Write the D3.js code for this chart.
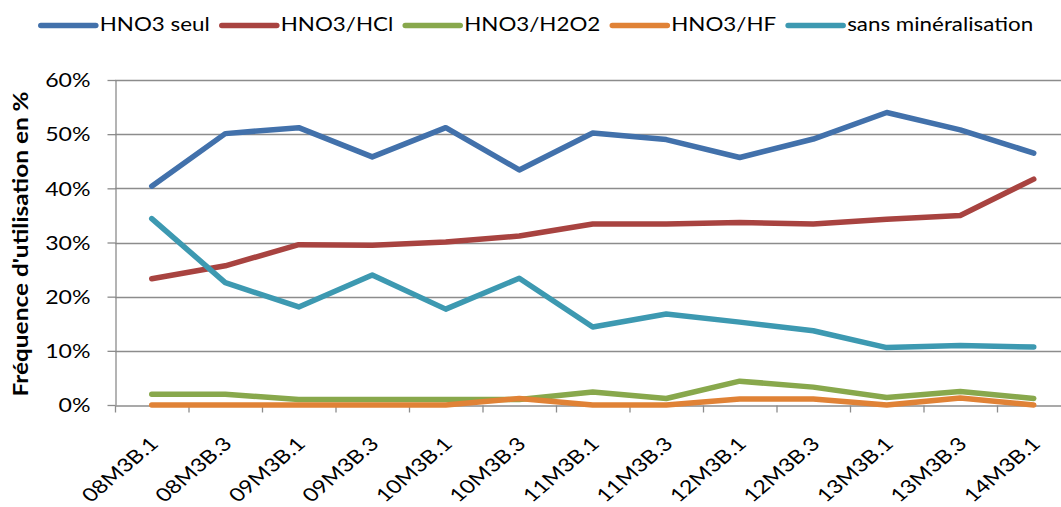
<!DOCTYPE html>
<html>
<head>
<meta charset="utf-8">
<script src="https://cdn.jsdelivr.net/npm/d3@7"></script>
<style>
  body { margin: 0; background: #fff; }
  text { font-family: Lato, "Open Sans", sans-serif; fill: #000; }
</style>
</head>
<body>
<div id="chart"></div>
<script>
// categories (x axis)
const categories = ["08M3B.1","08M3B.3","09M3B.1","09M3B.3","10M3B.1","10M3B.3","11M3B.1","11M3B.3","12M3B.1","12M3B.3","13M3B.1","13M3B.3","14M3B.1"];

// series values, in %
const hno3Seul = [40.4, 50.1, 51.2, 45.8, 51.2, 43.4, 50.2, 49.0, 45.7, 49.1, 54.0, 50.8, 46.5];
const hno3Hcl  = [23.3, 25.7, 29.6, 29.5, 30.1, 31.2, 33.4, 33.4, 33.7, 33.4, 34.3, 35.0, 41.7];
const hno3H2o2 = [2.0, 2.0, 1.0, 1.0, 1.0, 1.0, 2.4, 1.2, 4.4, 3.3, 1.4, 2.5, 1.2];
const hno3Hf   = [0, 0, 0, 0, 0, 1.2, 0, 0, 1.1, 1.1, 0, 1.3, 0];
const sansMin  = [34.4, 22.6, 18.1, 24.0, 17.7, 23.4, 14.4, 16.8, 15.3, 13.7, 10.6, 11.0, 10.7];

const seriesNames = ["HNO3 seul", "HNO3/HCl", "HNO3/H2O2", "HNO3/HF", "sans minéralisation"];
const seriesValues = [hno3Seul, hno3Hcl, hno3H2o2, hno3Hf, sansMin];
const seriesColors = ["#4271AB", "#A84340", "#88A84C", "#E08236", "#3D99B1"];

const yTicks = [0, 10, 20, 30, 40, 50, 60];
const yTitle = "Fréquence d'utilisation en %";

const width = 1061, height = 507;
const margins = { top: 80, left: 115, bottom: 102 };
const plotRight = 1070.5; // plot runs past the right edge, like the original
const gridColor = "#8c8c8c";
const stretch = 1.25; // text in the original is wider than Lato

const svg = d3.select("#chart").append("svg")
  .attr("width", width)
  .attr("height", height)
  .style("background", "#fff");

const x = d3.scaleBand().domain(categories).range([margins.left, plotRight]);
const y = d3.scaleLinear().domain([0, 60]).range([height - margins.bottom, margins.top]);

// gridlines
svg.append("g").selectAll("line")
  .data(yTicks.filter(d => d > 0))
  .enter().append("line")
  .attr("x1", margins.left)
  .attr("x2", plotRight)
  .attr("y1", d => Math.round(y(d)) + 0.5)
  .attr("y2", d => Math.round(y(d)) + 0.5)
  .attr("stroke", gridColor)
  .attr("stroke-width", 1.3);

// y axis
const yAxis = svg.append("g")
  .attr("transform", "translate(" + (margins.left + 0.5) + ",0)")
  .call(d3.axisLeft(y).tickValues(yTicks).tickSize(8).tickSizeOuter(0).tickFormat(d => d + "%"));
yAxis.select(".domain").attr("stroke", gridColor).attr("stroke-width", 1.3);
yAxis.selectAll(".tick line").attr("stroke", gridColor).attr("stroke-width", 1.3);
yAxis.selectAll(".tick text")
  .attr("x", null)
  .attr("dy", "0.36em")
  .attr("text-anchor", "end")
  .attr("transform", "translate(-25,0) scale(" + stretch + ",1)")
  .style("font-size", "18.5px");

// x axis: line + ticks at category boundaries
const xBounds = d3.scaleLinear().domain([0, categories.length]).range(x.range());
const xTicks = svg.append("g")
  .attr("transform", "translate(0," + (Math.round(y(0)) + 0.5) + ")")
  .call(d3.axisBottom(xBounds).ticks(categories.length).tickSize(7).tickSizeOuter(0).tickFormat(""));
xTicks.select(".domain").attr("stroke", gridColor).attr("stroke-width", 1.3);
xTicks.selectAll(".tick line").attr("stroke", gridColor).attr("stroke-width", 1.3);

// x labels
const xLabels = svg.append("g")
  .attr("transform", "translate(0," + y(0) + ")")
  .call(d3.axisBottom(x).tickSize(0));
xLabels.select(".domain").remove();
xLabels.selectAll(".tick text")
  .attr("y", null)
  .attr("dy", null)
  .attr("text-anchor", "end")
  .attr("transform", "translate(8,40) scale(1.18,1) rotate(-45) scale(1.08,1)")
  .style("font-size", "18.5px");

// lines
const line = d3.line()
  .x((d, i) => x(categories[i]) + x.bandwidth() / 2)
  .y(d => y(d));

svg.append("g").selectAll("path")
  .data(seriesValues)
  .enter().append("path")
  .attr("d", line)
  .attr("fill", "none")
  .attr("stroke", (d, i) => seriesColors[i])
  .attr("stroke-width", 5.5)
  .attr("stroke-linejoin", "round")
  .attr("stroke-linecap", "round");

// y title
svg.append("text")
  .attr("transform", "translate(28,244) scale(1,1.22) rotate(-90)")
  .attr("text-anchor", "middle")
  .style("font-size", "20px")
  .style("font-weight", "bold")
  .text(yTitle);

// legend
const legend = svg.append("g");
const lineLen = 55, gapText = 4, gapItem = 12, legendY = 25.5, legendStretch = 1.21;
let items = [];
seriesNames.forEach((name, i) => {
  const g = legend.append("g");
  g.append("line")
    .attr("x1", 0).attr("x2", lineLen)
    .attr("y1", legendY).attr("y2", legendY)
    .attr("stroke", seriesColors[i])
    .attr("stroke-width", 5.5)
    .attr("stroke-linecap", "round");
  const t = g.append("text")
    .attr("transform", "translate(" + (lineLen + gapText) + "," + (legendY + 5) + ") scale(" + legendStretch + ",1)")
    .style("font-size", "18.5px")
    .text(name);
  items.push({ g: g, w: lineLen + gapText + t.node().getComputedTextLength() * legendStretch });
});
const total = d3.sum(items, d => d.w) + gapItem * (items.length - 1);
let cx = 537 - total / 2;
items.forEach(d => {
  d.g.attr("transform", "translate(" + cx + ",0)");
  cx += d.w + gapItem;
});
</script>
</body>
</html>
